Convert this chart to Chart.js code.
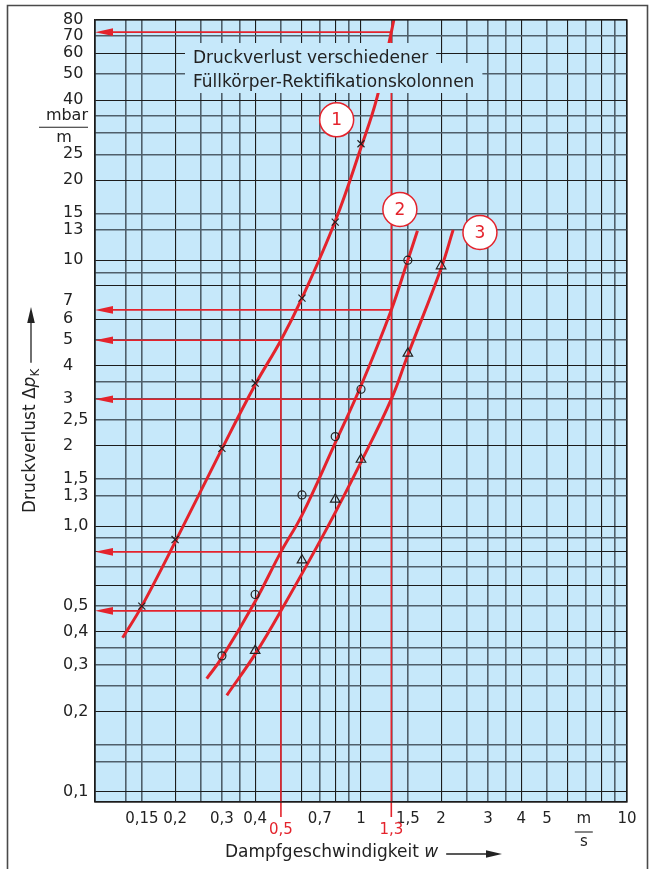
<!DOCTYPE html>
<html>
<head>
<meta charset="utf-8">
<script src="https://cdn.jsdelivr.net/npm/chart.js@4.4.1/dist/chart.umd.min.js"></script>
<style>
  html, body { margin: 0; padding: 0; background: #ffffff; }
  #wrap { width: 653px; height: 869px; position: relative; }
</style>
</head>
<body>
<div id="wrap"><canvas id="chart" width="653" height="869"></canvas></div>
<script>
// Pressure loss of packed rectification columns (log-log diagram)

// Grid lines / ticks of both logarithmic axes
const xGrid = [0.1, 0.13, 0.15, 0.2, 0.25, 0.3, 0.35, 0.4, 0.5, 0.6, 0.7, 0.8, 0.9,
               1, 1.3, 1.5, 2, 2.5, 3, 3.5, 4, 5, 6, 7, 8, 9, 10];
const xLabels = ['', '', '0,15', '0,2', '', '0,3', '', '0,4', '', '', '0,7', '', '',
                 '1', '', '1,5', '2', '', '3', '', '4', '5', '', '', '', '', '10'];
const yGrid = [0.1, 0.13, 0.15, 0.2, 0.25, 0.3, 0.35, 0.4, 0.5, 0.6, 0.7, 0.8, 0.9,
               1, 1.3, 1.5, 2, 2.5, 3, 3.5, 4, 5, 6, 7, 8, 9,
               10, 13, 15, 20, 25, 30, 35, 40, 50, 60, 70, 80];
const yLabels = ['0,1', '', '', '0,2', '', '0,3', '', '0,4', '0,5', '', '', '', '',
                 '1,0', '1,3', '1,5', '2', '2,5', '3', '', '4', '5', '6', '7', '', '',
                 '10', '13', '15', '20', '25', '', '', '40', '50', '60', '70', '80'];

// Packing 1 (x markers)
const curve1X = [0.127, 0.15, 0.2, 0.3, 0.4, 0.5, 0.6, 0.8, 1.0, 1.15, 1.3, 1.335];
const curve1Y = [0.38, 0.5, 0.87, 1.95, 3.4, 5.0, 7.2, 14, 26.5, 41, 72, 82];
const meas1X = [0.15, 0.2, 0.3, 0.4, 0.6, 0.8, 1.0];
const meas1Y = [0.5, 0.89, 1.96, 3.45, 7.2, 13.9, 27.4];

// Packing 2 (circles)
const curve2X = [0.263, 0.3, 0.4, 0.5, 0.6, 0.79, 1.0, 1.3, 1.5, 1.63];
const curve2Y = [0.267, 0.32, 0.52, 0.8, 1.1, 2.0, 3.37, 6.5, 10, 12.9];
const meas2X = [0.3, 0.4, 0.6, 0.8, 1.0, 1.5];
const meas2Y = [0.325, 0.553, 1.31, 2.17, 3.27, 10];

// Packing 3 (triangles)
const curve3X = [0.313, 0.4, 0.5, 0.74, 1.0, 1.3, 1.5, 2.0, 2.22];
const curve3Y = [0.231, 0.33, 0.48, 0.97, 1.74, 3.0, 4.4, 9.3, 13];
const meas3X = [0.4, 0.6, 0.8, 1.0, 1.5, 2.0];
const meas3Y = [0.34, 0.744, 1.26, 1.78, 4.46, 9.5];

// Read-off example: velocities and the resulting pressure losses
const readX = [0.5, 1.3];
const readLabels = ['0,5', '1,3'];
const readTopY = [5, 72];
const arrowY = [72, 6.5, 5, 3, 0.8, 0.48];
const arrowFromX = [1.3, 1.3, 0.5, 1.3, 0.5, 0.5];

// Curve tags
const tagText = ['1', '2', '3'];
const tagX = [0.81, 1.4, 2.8];
const tagY = [33.7, 15.5, 12.7];

const titleLines = ['Druckverlust verschiedener', 'Füllkörper-Rektifikationskolonnen'];

const FAM = '"DejaVu Sans", "Liberation Sans", Arial, sans-serif';
const BG = '#c6e8fa';
const RED = '#e4232c';
const INK = '#222222';

const pts = (xs, ys) => xs.map((x, i) => ({ x: x, y: ys[i] }));

function mantissa(v) {
  const e = Math.floor(Math.log10(v) + 1e-9);
  return Math.round(v / Math.pow(10, e) * 10) / 10;
}
const darkSteps = [1, 2, 4, 6, 8];
function gridColor(ctx, hideSeven) {
  const v = ctx.tick ? ctx.tick.value : null;
  if (v == null) return INK;
  if (hideSeven && Math.abs(v - 7) < 1e-6) return 'rgba(0,0,0,0)';
  return darkSteps.includes(mantissa(v)) ? '#1c1c1c' : '#4f5f6a';
}
function gridWidth(ctx) {
  const v = ctx.tick ? ctx.tick.value : null;
  if (v == null) return 1;
  return darkSteps.includes(mantissa(v)) ? 1.1 : 1.6;
}

function arrowLeft(c, xTip, xFrom, y) {
  c.beginPath();
  c.moveTo(xFrom, y);
  c.lineTo(xTip + 14, y);
  c.stroke();
  c.beginPath();
  c.moveTo(xTip, y);
  c.lineTo(xTip + 18, y - 3.8);
  c.lineTo(xTip + 18, y + 3.8);
  c.closePath();
  c.fill();
}

const decor = {
  id: 'decor',
  beforeDraw(chart) {
    const { ctx: c, chartArea: a } = chart;
    c.save();
    c.fillStyle = BG;
    c.fillRect(a.left, a.top, a.right - a.left, a.bottom - a.top);
    c.restore();
  },
  beforeDatasetsDraw(chart) {
    const { ctx: c, chartArea: a, scales: { x: xs, y: ys } } = chart;
    c.save();
    c.strokeStyle = RED;
    c.fillStyle = RED;
    c.lineWidth = 1.6;
    // vertical read-off lines, running below the axis to their labels
    readX.forEach((v, i) => {
      const px = xs.getPixelForValue(v);
      c.beginPath();
      c.moveTo(px, ys.getPixelForValue(readTopY[i]));
      c.lineTo(px, a.bottom + 15);
      c.stroke();
    });
    // horizontal read-off arrows pointing to the pressure axis
    arrowY.forEach((v, i) => {
      arrowLeft(c, a.left, xs.getPixelForValue(arrowFromX[i]), ys.getPixelForValue(v));
    });
    c.restore();
  },
  afterDatasetsDraw(chart) {
    const { ctx: c, chartArea: a, scales: { x: xs, y: ys } } = chart;
    c.save();
    // title block on the grid
    c.font = '17px ' + FAM;
    c.textBaseline = 'middle';
    const tx = a.left + 98;
    const rows = [[a.top + 23, a.top + 47], [a.top + 43, a.top + 73]];
    const mids = [a.top + 39, a.top + 63];
    titleLines.forEach((t, i) => {
      const w = c.measureText(t).width;
      c.fillStyle = BG;
      c.fillRect(tx - 8, rows[i][0], w + 16, rows[i][1] - rows[i][0]);
    });
    c.fillStyle = INK;
    titleLines.forEach((t, i) => c.fillText(t, tx, mids[i]));

    // circled curve numbers
    tagText.forEach((t, i) => {
      const px = xs.getPixelForValue(tagX[i]);
      const py = ys.getPixelForValue(tagY[i]);
      c.beginPath();
      c.arc(px, py, 17, 0, Math.PI * 2);
      c.fillStyle = '#ffffff';
      c.fill();
      c.lineWidth = 1.5;
      c.strokeStyle = RED;
      c.stroke();
      c.fillStyle = RED;
      c.font = '17px ' + FAM;
      c.textAlign = 'center';
      c.textBaseline = 'middle';
      c.fillText(t, px, py + 1);
    });

    // plot frame
    c.strokeStyle = '#1c1c1c';
    c.lineWidth = 1.3;
    c.strokeRect(a.left, a.top, a.right - a.left, a.bottom - a.top);
    c.restore();
  },
  afterDraw(chart) {
    const { ctx: c, chartArea: a, scales: { x: xs, y: ys } } = chart;
    c.save();
    c.fillStyle = INK;
    c.strokeStyle = INK;

    // red read-off values under the axis
    c.font = '15px ' + FAM;
    c.textAlign = 'center';
    c.textBaseline = 'middle';
    c.fillStyle = RED;
    readX.forEach((v, i) => c.fillText(readLabels[i], xs.getPixelForValue(v), a.bottom + 28));

    // unit m/s in the x tick row
    c.fillStyle = INK;
    const ux = xs.getPixelForValue(7) - 2;
    c.fillText('m', ux, a.bottom + 17);
    c.lineWidth = 1.1;
    c.beginPath();
    c.moveTo(ux - 9, a.bottom + 30);
    c.lineTo(ux + 9, a.bottom + 30);
    c.stroke();
    c.fillText('s', ux, a.bottom + 40);

    // unit mbar/m in the y tick column
    c.font = '16px ' + FAM;
    const uy = ys.getPixelForValue(31.6);
    c.textAlign = 'right';
    c.fillText('mbar', a.left - 7, uy - 11);
    c.beginPath();
    c.moveTo(a.left - 56, uy);
    c.lineTo(a.left - 7, uy);
    c.stroke();
    c.textAlign = 'center';
    c.fillText('m', a.left - 31, uy + 11);

    // y axis title (rotated) with arrow
    c.save();
    c.translate(31, 513);
    c.rotate(-Math.PI / 2);
    c.textAlign = 'left';
    c.textBaseline = 'middle';
    c.font = '17px ' + FAM;
    let w = 0;
    c.fillText('Druckverlust \u0394', 0, 0);
    w += c.measureText('Druckverlust \u0394').width;
    c.font = 'italic 17px ' + FAM;
    c.fillText('p', w, 0);
    w += c.measureText('p').width;
    c.font = '12px ' + FAM;
    c.fillText('K', w, 5);
    w += c.measureText('K').width;
    c.lineWidth = 1.3;
    c.beginPath();
    c.moveTo(w + 6, 0);
    c.lineTo(195, 0);
    c.stroke();
    c.beginPath();
    c.moveTo(206, 0);
    c.lineTo(190, -3.8);
    c.lineTo(190, 3.8);
    c.closePath();
    c.fill();
    c.restore();

    // x axis title with arrow
    c.textAlign = 'left';
    c.textBaseline = 'middle';
    c.font = '17px ' + FAM;
    const ty = 853;
    let x0 = 225;
    c.fillText('Dampfgeschwindigkeit ', x0, ty);
    x0 += c.measureText('Dampfgeschwindigkeit ').width;
    c.font = 'italic 17px ' + FAM;
    c.fillText('w', x0, ty);
    x0 += c.measureText('w').width;
    c.lineWidth = 1.3;
    c.beginPath();
    c.moveTo(x0 + 8, ty + 1);
    c.lineTo(490, ty + 1);
    c.stroke();
    c.beginPath();
    c.moveTo(502, ty + 1);
    c.lineTo(486, ty - 2.8);
    c.lineTo(486, ty + 4.8);
    c.closePath();
    c.fill();

    // outer frame
    c.strokeStyle = '#4a4a4a';
    c.lineWidth = 1.6;
    c.beginPath();
    c.moveTo(7.5, 880);
    c.lineTo(7.5, 5.5);
    c.lineTo(647.5, 5.5);
    c.lineTo(647.5, 880);
    c.stroke();
    c.restore();
  }
};

const curveStyle = {
  type: 'line',
  borderColor: RED,
  borderWidth: 3,
  pointRadius: 0,
  fill: false,
  tension: 0.4,
  order: 2
};
const markStyle = {
  type: 'scatter',
  borderColor: INK,
  backgroundColor: 'rgba(0,0,0,0)',
  borderWidth: 1.2,
  showLine: false,
  order: 1
};

new Chart(document.getElementById('chart'), {
  data: {
    datasets: [
      Object.assign({ label: 'Packung 1', data: pts(curve1X, curve1Y) }, curveStyle),
      Object.assign({ label: 'Packung 2', data: pts(curve2X, curve2Y) }, curveStyle),
      Object.assign({ label: 'Packung 3', data: pts(curve3X, curve3Y) }, curveStyle),
      Object.assign({ label: 'Messung 1', data: pts(meas1X, meas1Y), pointStyle: 'crossRot', pointRadius: 5 }, markStyle),
      Object.assign({ label: 'Messung 2', data: pts(meas2X, meas2Y), pointStyle: 'circle', pointRadius: 4 }, markStyle),
      Object.assign({ label: 'Messung 3', data: pts(meas3X, meas3Y), pointStyle: 'triangle', pointRadius: 5.5 }, markStyle)
    ]
  },
  options: {
    responsive: false,
    animation: false,
    devicePixelRatio: 1,
    layout: { padding: { left: 63, right: 26, top: 20, bottom: 0 } },
    plugins: { legend: { display: false }, tooltip: { enabled: false }, title: { display: false } },
    scales: {
      x: {
        type: 'logarithmic',
        position: 'bottom',
        min: 0.1,
        max: 10,
        afterBuildTicks: s => { s.ticks = xGrid.map(v => ({ value: v })); },
        afterFit: s => { s.height = 67; },
        grid: { color: ctx => gridColor(ctx, false), lineWidth: gridWidth, drawTicks: false },
        border: { display: true, color: '#1c1c1c', width: 1.3 },
        ticks: {
          autoSkip: false, maxRotation: 0, minRotation: 0, padding: 8,
          color: INK, font: { family: FAM, size: 15 },
          callback: (v, i) => xLabels[i]
        }
      },
      y: {
        type: 'logarithmic',
        position: 'left',
        min: 0.0917,
        max: 80,
        afterBuildTicks: s => { s.ticks = yGrid.map(v => ({ value: v })); },
        afterFit: s => { s.width = 32; },
        grid: { color: ctx => gridColor(ctx, true), lineWidth: gridWidth, drawTicks: false },
        border: { display: true, color: '#1c1c1c', width: 1.3 },
        ticks: {
          autoSkip: false, crossAlign: 'far', padding: 0,
          color: INK, font: { family: FAM, size: 16 },
          callback: (v, i) => yLabels[i]
        }
      }
    }
  },
  plugins: [decor]
});
</script>
</body>
</html>
